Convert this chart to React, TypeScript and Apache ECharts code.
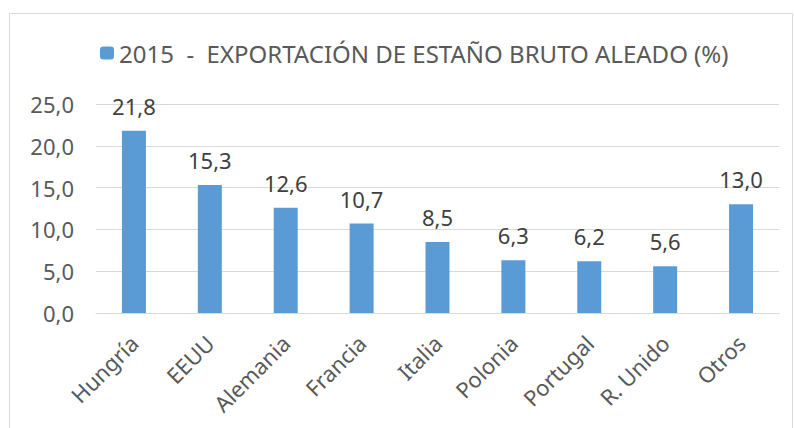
import React, { useEffect, useRef } from "react";
import * as echarts from "echarts";

const categories = ["Hungría", "EEUU", "Alemania", "Francia", "Italia", "Polonia", "Portugal", "R. Unido", "Otros"];
const values = [21.8, 15.3, 12.6, 10.7, 8.5, 6.3, 6.2, 5.6, 13.0];
const seriesName = "2015  -  EXPORTACIÓN DE ESTAÑO BRUTO ALEADO (%)";

const fmt = (v: number) => v.toFixed(1).replace(".", ",");

export default function App() {
  const ref = useRef<HTMLDivElement>(null);
  useEffect(() => {
    if (!ref.current) return;
    const chart = echarts.init(ref.current, undefined, { renderer: "svg" });
    const font = "Noto Sans";
    chart.setOption({
      animation: false,
      textStyle: { fontFamily: font },
      graphic: [
        {
          type: "rect",
          shape: { x: 9.5, y: 13.5, width: 783, height: 500 },
          style: { fill: "none", stroke: "#d9d9d9", lineWidth: 1 },
        },
      ],
      legend: {
        left: 95,
        top: 36,
        itemWidth: 14,
        itemHeight: 13,
        itemGap: 5,
        textStyle: { fontSize: 24, color: "#595959", fontFamily: font },
        data: [seriesName],
      },
      grid: { left: 96, right: 15, top: 104, bottom: 115, containLabel: false },
      xAxis: {
        type: "category",
        data: categories,
        axisLine: { lineStyle: { color: "#d9d9d9", width: 1 } },
        axisTick: { show: false },
        axisLabel: { rotate: 45, fontSize: 22, color: "#595959", margin: 26, fontFamily: font },
      },
      yAxis: {
        type: "value",
        min: 0,
        max: 25,
        interval: 5,
        axisLine: { show: false },
        axisTick: { show: false },
        splitLine: { lineStyle: { color: "#d9d9d9", width: 1 } },
        axisLabel: { fontSize: 22, color: "#595959", margin: 22, formatter: (v: number) => fmt(v), fontFamily: font },
      },
      series: [
        {
          name: seriesName,
          type: "bar",
          data: values,
          barWidth: "31.6%",
          itemStyle: { color: "#5B9BD5" },
          label: {
            show: true,
            position: "top",
            distance: 14,
            fontSize: 22,
            color: "#404040",
            fontFamily: font,
            formatter: (p: any) => fmt(p.value),
          },
        },
      ],
    });
    return () => chart.dispose();
  }, []);
  return <div ref={ref} style={{ width: 794, height: 428, position: "absolute", left: 0, top: 0 }} />;
}
